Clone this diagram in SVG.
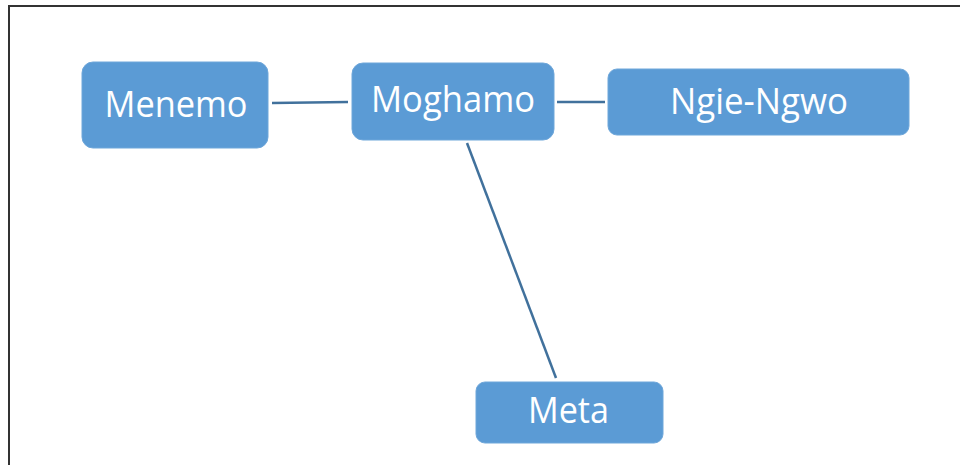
<svg xmlns="http://www.w3.org/2000/svg" width="960" height="465" viewBox="0 0 960 465">
  <style>
    .box { fill: #5B9BD5; stroke: #6FA7DA; stroke-width: 1; }
    .label { font-family: "Open Sans", "Noto Sans", sans-serif; font-size: 37px; fill: #FFFFFF; text-anchor: middle; }
    .link { stroke: #41719C; stroke-width: 2.5; fill: none; }
    .frame { stroke: #333333; stroke-width: 2; fill: none; }
  </style>
  <rect width="960" height="465" fill="#FFFFFF"/>
  <!-- outer frame (top and left edges) -->
  <path class="frame" d="M9 465 V6 H960"/>
  <g id="connectors">
    <line class="link" x1="272" y1="103" x2="348" y2="102"/>
    <line class="link" x1="557" y1="102" x2="605" y2="102"/>
    <line class="link" x1="467" y1="143" x2="556" y2="378"/>
  </g>
  <g id="menemo">
    <rect class="box" x="82" y="62" width="186" height="86" rx="11"/>
    <text class="label" x="176" y="117" textLength="143" lengthAdjust="spacingAndGlyphs">Menemo</text>
  </g>
  <g id="moghamo">
    <rect class="box" x="352" y="63" width="202" height="77" rx="11"/>
    <text class="label" x="453" y="112" textLength="164" lengthAdjust="spacingAndGlyphs">Moghamo</text>
  </g>
  <g id="ngie-ngwo">
    <rect class="box" x="608" y="69" width="301" height="66" rx="9"/>
    <text class="label" x="759" y="114" textLength="178" lengthAdjust="spacingAndGlyphs">Ngie-Ngwo</text>
  </g>
  <g id="meta">
    <rect class="box" x="476" y="382" width="187" height="61" rx="9"/>
    <text class="label" x="568.5" y="423" textLength="81" lengthAdjust="spacingAndGlyphs">Meta</text>
  </g>
</svg>
